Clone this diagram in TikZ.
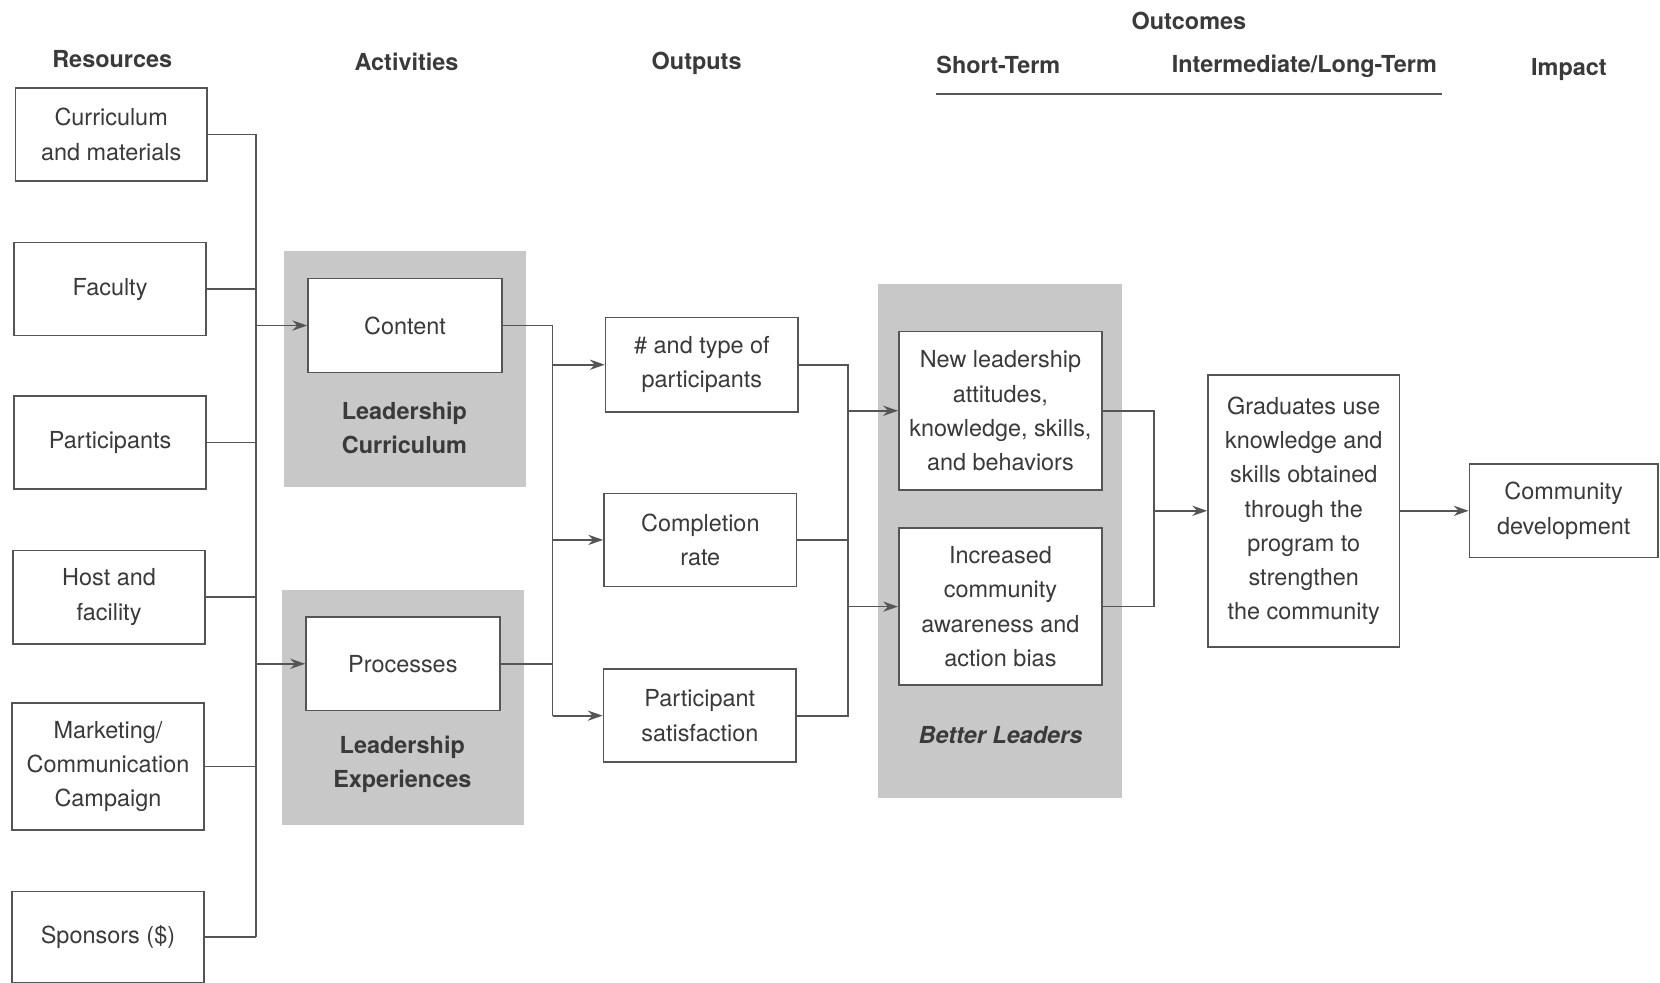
\documentclass[tikz,border=0pt]{standalone}
\usepackage{fontspec}
\setmainfont{TeX Gyre Heros}
\usepackage{tikz}
\usetikzlibrary{positioning,calc,arrows.meta}
\definecolor{inkgray}{HTML}{3A3A3A}
\definecolor{linegray}{HTML}{555555}
\definecolor{panelgray}{HTML}{C8C8C8}

\begin{document}
\begin{tikzpicture}[x=0.02cm, y=-0.02cm,
    every node/.style={font=\fontsize{12.6}{18.4}\selectfont, text=inkgray, align=center},
    head/.style={font=\fontsize{12.6}{18.4}\selectfont\bfseries},
    box/.style={draw=linegray, line width=0.9pt, fill=white, inner sep=0pt},
    panel/.style={fill=panelgray, inner sep=0pt},
    flow/.style={draw=linegray, line width=0.9pt},
    arr/.style={flow, -{Stealth[length=8pt,width=5.5pt]}}]
    \useasboundingbox (0,0) rectangle (1568,928);

    % Headings
    \node[head] (hres) at (106,56) {Resources};
    \node[head] (hact) at (384,58) {Activities};
    \node[head] (hout) at (658,60) {Outputs};
    \node[head] (houtc) at (1123,20) {Outcomes};
    \node[head] (hshort) at (943,61) {Short-Term};
    \node[head] (hinter) at (1232,63) {Intermediate/Long-Term};
    \node[head] (himp) at (1482,66) {Impact};
    \draw[linegray, line width=1pt] (884,89) -- (1362,89);

    % Resources
    \node[box, minimum width=3.62cm, minimum height=1.76cm] (curric) at (105,127) {Curriculum\\and materials};
    \node[box, minimum width=3.62cm, minimum height=1.76cm] (faculty) at (104,273) {Faculty};
    \node[box, minimum width=3.62cm, minimum height=1.76cm] (partic) at (104,418) {Participants};
    \node[box, minimum width=3.62cm, minimum height=1.76cm] (host) at (103,564) {Host and\\facility};
    \node[box, minimum width=3.62cm, minimum height=2.40cm] (market) at (102,724) {Marketing/\\Communication\\Campaign};
    \node[box, minimum width=3.62cm, minimum height=1.72cm] (sponsor) at (102,885) {Sponsors (\$)};

    % Activities
    \node[panel, minimum width=4.58cm, minimum height=4.46cm] (pcurr) at (382.5,348.5) {};
    \node[box, minimum width=3.66cm, minimum height=1.78cm] (content) at (382.5,307.5) {Content};
    \node[head] (lcurr) at (382,404) {Leadership\\Curriculum};
    \node[panel, minimum width=4.58cm, minimum height=4.44cm] (pexp) at (380.5,668) {};
    \node[box, minimum width=3.66cm, minimum height=1.76cm] (process) at (380.5,627) {Processes};
    \node[head] (lexp) at (380,722) {Leadership\\Experiences};

    % Outputs
    \node[box, minimum width=3.64cm, minimum height=1.78cm] (ntype) at (663,344.5) {\# and type of\\participants};
    \node[box, minimum width=3.64cm, minimum height=1.76cm] (compl) at (661.5,510) {Completion\\rate};
    \node[box, minimum width=3.64cm, minimum height=1.76cm] (satis) at (661,676) {Participant\\satisfaction};

    % Outcomes
    \node[panel, minimum width=4.62cm, minimum height=9.72cm] (pbetter) at (944.5,511) {};
    \node[box, minimum width=3.84cm, minimum height=3.00cm] (newlead) at (945,388) {New leadership\\attitudes,\\knowledge, skills,\\and behaviors};
    \node[box, minimum width=3.84cm, minimum height=2.96cm] (aware) at (945,573) {Increased\\community\\awareness and\\action bias};
    \node[font=\fontsize{12.6}{18.4}\selectfont\bfseries\itshape] (lbetter) at (945,694) {Better Leaders};
    \node[box, minimum width=3.62cm, minimum height=5.14cm] (grads) at (1231.5,482.5) {Graduates use\\knowledge and\\skills obtained\\through the\\program to\\strengthen\\the community};

    % Impact
    \node[box, minimum width=3.56cm, minimum height=1.76cm] (commun) at (1477,482.5) {Community\\development};

    % Connectors
    \coordinate (busa) at (242,0);
    \foreach \n in {curric,faculty,partic,host,market,sponsor}
        \draw[flow] (\n.east) -- (\n.east -| busa);
    \draw[flow] (curric.east -| busa) -- (sponsor.east -| busa);
    \draw[arr] (content.west -| busa) -- (content.west);
    \draw[arr] (process.west -| busa) -- (process.west);

    \coordinate (busb) at (522,0);
    \draw[flow] (content.east) -| (busb |- satis.west);
    \draw[flow] (process.east) -- (process.east -| busb);
    \foreach \n in {ntype,compl,satis}
        \draw[arr] (busb |- \n.west) -- (\n.west);

    \coordinate (busc) at (801,0);
    \draw[flow] (ntype.east) -| (busc |- satis.east) -- (satis.east);
    \draw[flow] (compl.east) -- (compl.east -| busc);
    \draw[arr] (busc |- newlead.west) -- (newlead.west);
    \draw[arr] (busc |- aware.west) -- (aware.west);

    \coordinate (busd) at (1090,0);
    \draw[flow] (newlead.east) -| (busd |- aware.east) -- (aware.east);
    \draw[arr] (busd |- grads.west) -- (grads.west);
    \draw[arr] (grads.east) -- (commun.west);
\end{tikzpicture}
\end{document}
